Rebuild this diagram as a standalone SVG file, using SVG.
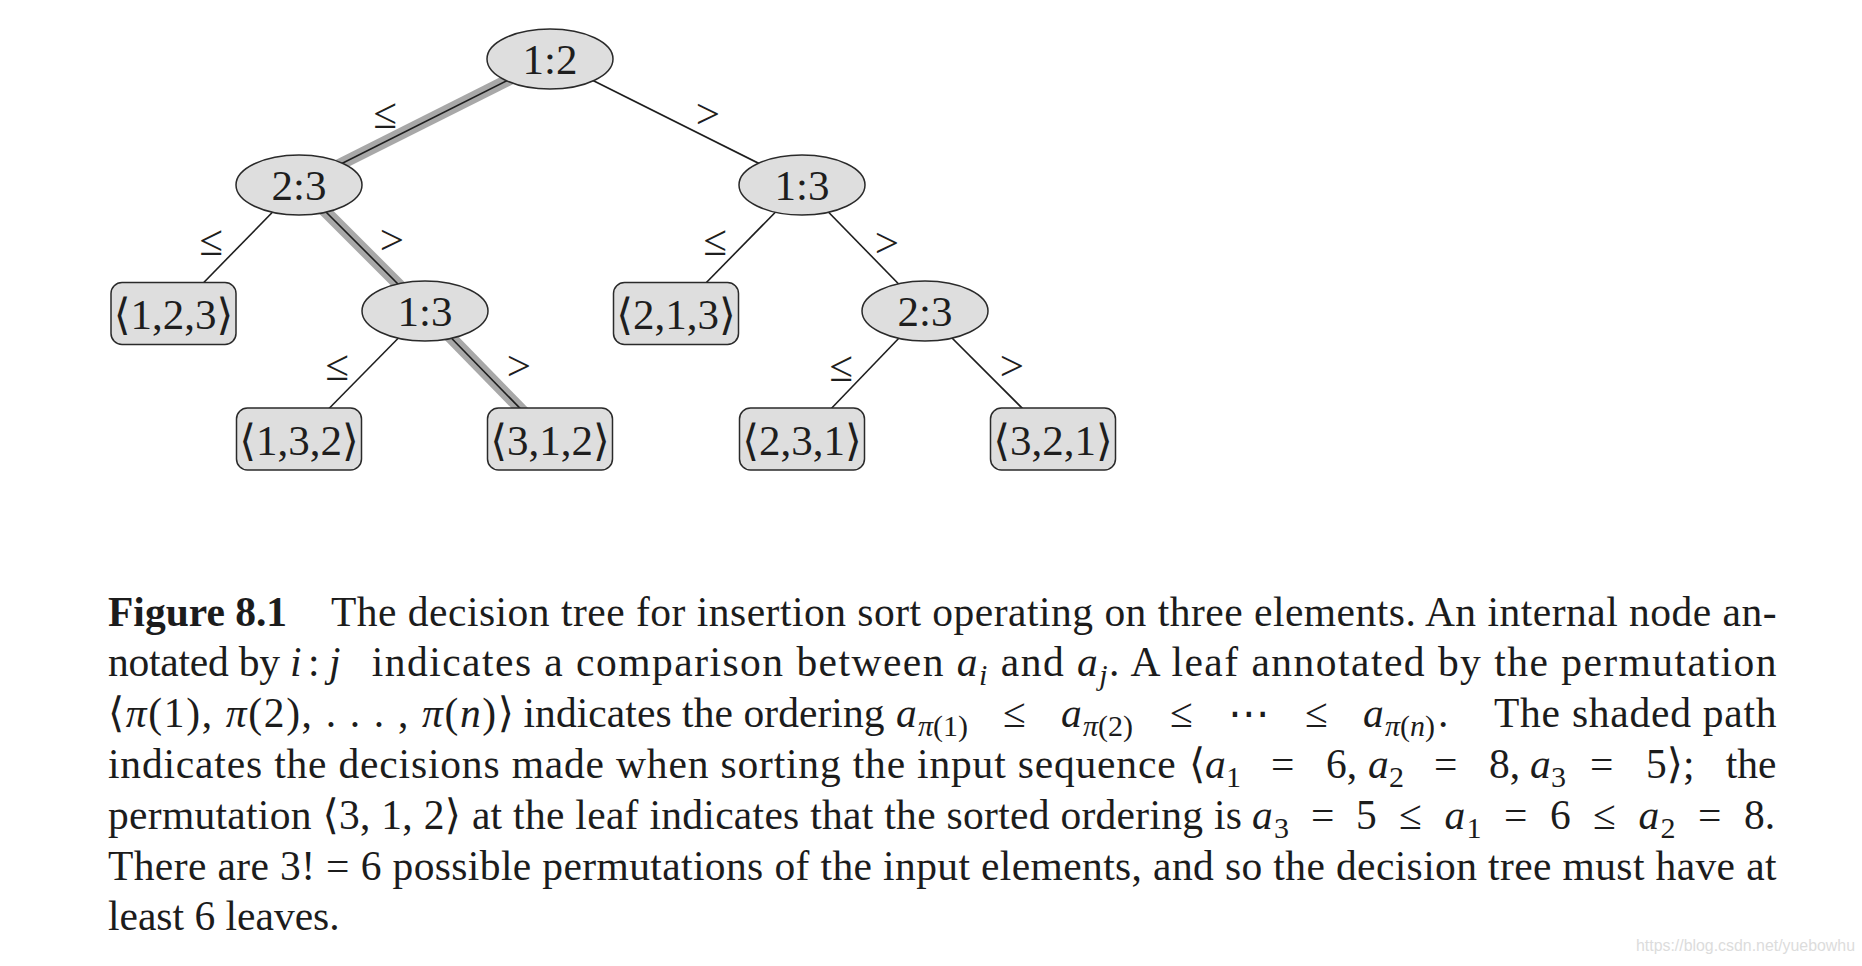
<svg xmlns="http://www.w3.org/2000/svg" width="1862" height="966" viewBox="0 0 1862 966">
<style>
  .node { fill: #dedede; stroke: #2a2a2a; stroke-width: 1.5; }
  .lbl { font-family: "Liberation Serif", "DejaVu Serif", "DejaVu Sans", serif; font-size: 43px; fill: #1e1e1e; text-anchor: middle; }
  .rel { font-family: "Liberation Serif", "DejaVu Serif", serif; font-size: 43px; fill: #1e1e1e; text-anchor: middle; }
  .edge { stroke: #1e1e1e; stroke-width: 1.6; fill: none; }
  .shade { stroke: #a8a8a8; stroke-width: 12; fill: none; }
  .cap { font-family: "Liberation Serif", "DejaVu Serif", "DejaVu Sans", serif; font-size: 41.5px; fill: #1c1c1c; }
  .b { font-weight: bold; }
  .it { font-style: italic; }
  .sub { font-size: 30px; }
  .end { text-anchor: end; }
  .wm { font-family: "Liberation Sans", "DejaVu Sans", sans-serif; font-size: 16px; fill: #dcdcdc; }
</style>
<rect width="1862" height="966" fill="#ffffff"/>

<g id="connectors">
  <line class="shade" x1="550" y1="59" x2="299" y2="185"/>
  <line class="shade" x1="299" y1="185" x2="425" y2="311"/>
  <line class="shade" x1="425" y1="311" x2="550" y2="439"/>
  <line class="edge" x1="550" y1="59" x2="299" y2="185"/>
  <line class="edge" x1="550" y1="59" x2="802" y2="185"/>
  <line class="edge" x1="299" y1="185" x2="173.5" y2="313.5"/>
  <line class="edge" x1="299" y1="185" x2="425" y2="311"/>
  <line class="edge" x1="802" y1="185" x2="676" y2="313.5"/>
  <line class="edge" x1="802" y1="185" x2="925" y2="311"/>
  <line class="edge" x1="425" y1="311" x2="299" y2="439"/>
  <line class="edge" x1="425" y1="311" x2="550" y2="439"/>
  <line class="edge" x1="925" y1="311" x2="802" y2="439"/>
  <line class="edge" x1="925" y1="311" x2="1053" y2="439"/>
  <text class="rel" x="385" y="128">≤</text>
  <text class="rel" x="708" y="128">&gt;</text>
  <text class="rel" x="211" y="255">≤</text>
  <text class="rel" x="392" y="254">&gt;</text>
  <text class="rel" x="715" y="255">≤</text>
  <text class="rel" x="887" y="257">&gt;</text>
  <text class="rel" x="337" y="380">≤</text>
  <text class="rel" x="519" y="380">&gt;</text>
  <text class="rel" x="841" y="381">≤</text>
  <text class="rel" x="1012" y="380">&gt;</text>
</g>

<g id="n12"><ellipse class="node" cx="550" cy="59" rx="63" ry="30"/><text class="lbl" x="550" y="74">1:2</text></g>
<g id="n23a"><ellipse class="node" cx="299" cy="185" rx="63" ry="30"/><text class="lbl" x="299" y="200">2:3</text></g>
<g id="n13a"><ellipse class="node" cx="802" cy="185" rx="63" ry="30"/><text class="lbl" x="802" y="200">1:3</text></g>
<g id="l123"><rect class="node" x="111" y="282.5" width="125" height="62" rx="11"/><text class="lbl" x="173.5" y="329">⟨1,2,3⟩</text></g>
<g id="n13b"><ellipse class="node" cx="425" cy="311" rx="63" ry="30"/><text class="lbl" x="425" y="326">1:3</text></g>
<g id="l213"><rect class="node" x="613.5" y="282.5" width="125" height="62" rx="11"/><text class="lbl" x="676" y="329">⟨2,1,3⟩</text></g>
<g id="n23b"><ellipse class="node" cx="925" cy="311" rx="63" ry="30"/><text class="lbl" x="925" y="326">2:3</text></g>
<g id="l132"><rect class="node" x="236.5" y="408" width="125" height="62" rx="11"/><text class="lbl" x="299" y="455">⟨1,3,2⟩</text></g>
<g id="l312"><rect class="node" x="487.5" y="408" width="125" height="62" rx="11"/><text class="lbl" x="550" y="455">⟨3,1,2⟩</text></g>
<g id="l231"><rect class="node" x="739.5" y="408" width="125" height="62" rx="11"/><text class="lbl" x="802" y="455">⟨2,3,1⟩</text></g>
<g id="l321"><rect class="node" x="990.5" y="408" width="125" height="62" rx="11"/><text class="lbl" x="1053" y="455">⟨3,2,1⟩</text></g>

<g id="caption">
  <text class="cap b" x="108" y="625.5">Figure 8.1</text>
  <text class="cap" x="331" y="625.5" textLength="1445.5">The decision tree for insertion sort operating on three elements. An internal node an-</text>

  <text class="cap" x="108" y="676.3" textLength="172">notated by</text>
  <text class="cap it" x="290" y="676.3">i</text>
  <text class="cap" x="308" y="676.3">:</text>
  <text class="cap it" x="329" y="676.3">j</text>
  <text class="cap" x="371.7" y="676.3" textLength="1404.8">indicates a comparison between <tspan class="it">a</tspan><tspan class="it sub" dy="9">i</tspan><tspan dy="-9"> and </tspan><tspan class="it">a</tspan><tspan class="it sub" dy="9">j</tspan><tspan dy="-9">.  A leaf annotated by the permutation</tspan></text>

  <text class="cap" x="108" y="727.1" textLength="406">⟨<tspan class="it">π</tspan>(1), <tspan class="it">π</tspan>(2), . . . , <tspan class="it">π</tspan>(<tspan class="it">n</tspan>)⟩</text>
  <text class="cap" x="523.5" y="727.1" textLength="361">indicates the ordering</text>
  <text class="cap it" x="896" y="727.1">a</text>
  <text class="cap sub" x="918" y="736.1"><tspan class="it">π</tspan>(1)</text>
  <text class="cap" x="1003" y="727.1">≤</text>
  <text class="cap it" x="1061" y="727.1">a</text>
  <text class="cap sub" x="1083" y="736.1"><tspan class="it">π</tspan>(2)</text>
  <text class="cap" x="1170" y="727.1">≤</text>
  <text class="cap" x="1228" y="727.1">⋯</text>
  <text class="cap" x="1305" y="727.1">≤</text>
  <text class="cap it" x="1363" y="727.1">a</text>
  <text class="cap sub" x="1385" y="736.1"><tspan class="it">π</tspan>(<tspan class="it">n</tspan>)</text>
  <text class="cap" x="1438" y="727.1">.</text>
  <text class="cap" x="1494" y="727.1" textLength="282.5">The shaded path</text>

  <text class="cap" x="108" y="777.9" textLength="1067.6">indicates the decisions made when sorting the input sequence</text>
  <text class="cap" x="1189" y="777.9">⟨</text>
  <text class="cap it" x="1205" y="777.9">a</text>
  <text class="cap sub" x="1226" y="786.9">1</text>
  <text class="cap" x="1271" y="777.9">=</text>
  <text class="cap" x="1326" y="777.9">6,</text>
  <text class="cap it" x="1368" y="777.9">a</text>
  <text class="cap sub" x="1389" y="786.9">2</text>
  <text class="cap" x="1434" y="777.9">=</text>
  <text class="cap" x="1489" y="777.9">8,</text>
  <text class="cap it" x="1530" y="777.9">a</text>
  <text class="cap sub" x="1551" y="786.9">3</text>
  <text class="cap" x="1590" y="777.9">=</text>
  <text class="cap" x="1646" y="777.9">5⟩;</text>
  <text class="cap end" x="1776.5" y="777.9">the</text>

  <text class="cap" x="108" y="828.7" textLength="1134">permutation ⟨3, 1, 2⟩ at the leaf indicates that the sorted ordering is</text>
  <text class="cap it" x="1252" y="828.7">a</text>
  <text class="cap sub" x="1274" y="837.7">3</text>
  <text class="cap" x="1311" y="828.7">=</text>
  <text class="cap" x="1356" y="828.7">5</text>
  <text class="cap" x="1399" y="828.7">≤</text>
  <text class="cap it" x="1444.5" y="828.7">a</text>
  <text class="cap sub" x="1466.5" y="837.7">1</text>
  <text class="cap" x="1504" y="828.7">=</text>
  <text class="cap" x="1550" y="828.7">6</text>
  <text class="cap" x="1593" y="828.7">≤</text>
  <text class="cap it" x="1638.5" y="828.7">a</text>
  <text class="cap sub" x="1660.5" y="837.7">2</text>
  <text class="cap" x="1698" y="828.7">=</text>
  <text class="cap" x="1744" y="828.7">8.</text>

  <text class="cap" x="108" y="879.5" textLength="1668.5">There are 3! = 6 possible permutations of the input elements, and so the decision tree must have at</text>
  <text class="cap" x="108" y="930.3">least 6 leaves.</text>
</g>
<text class="wm" x="1636" y="951" textLength="219" lengthAdjust="spacingAndGlyphs">https://blog.csdn.net/yuebowhu</text>
</svg>
